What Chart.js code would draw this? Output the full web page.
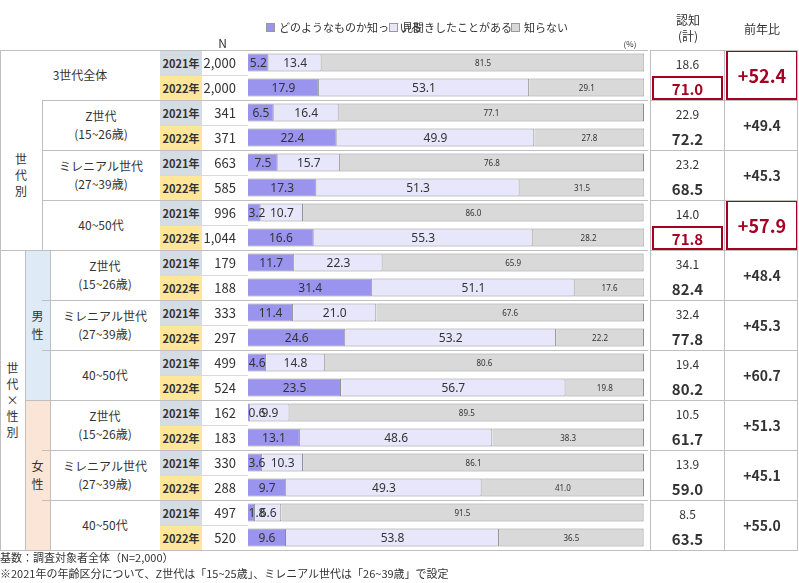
<!DOCTYPE html>
<html lang="ja">
<head>
<meta charset="UTF-8">
<title>認知度</title>
<script src="https://cdn.jsdelivr.net/npm/chart.js"></script>
<style>
  body { margin:0; width:799px; height:583px; background:#fff; font-family:"Noto Sans CJK JP","Noto Sans",sans-serif; color:#333; position:relative; overflow:hidden; }
  .a { position:absolute; box-sizing:border-box; display:flex; align-items:center; justify-content:center; text-align:center; }
  #wrap { position:absolute; left:248px; top:50px; width:396px; height:500px; }
</style>
</head>
<body>
<div id="wrap"><canvas id="c"></canvas></div>
<script>
// data
const groups = ['3世代全体', 'Z世代\n(15~26歳)', 'ミレニアル世代\n(27~39歳)', '40~50代', 'Z世代\n(15~26歳)', 'ミレニアル世代\n(27~39歳)', '40~50代', 'Z世代\n(15~26歳)', 'ミレニアル世代\n(27~39歳)', '40~50代'];
const years = ['2021年', '2022年'];
const know = [5.2, 17.9, 6.5, 22.4, 7.5, 17.3, 3.2, 16.6, 11.7, 31.4, 11.4, 24.6, 4.6, 23.5, 0.6, 13.1, 3.6, 9.7, 1.8, 9.6];
const heard = [13.4, 53.1, 16.4, 49.9, 15.7, 51.3, 10.7, 55.3, 22.3, 51.1, 21.0, 53.2, 14.8, 56.7, 9.9, 48.6, 10.3, 49.3, 6.6, 53.8];
const unknown = [81.5, 29.1, 77.1, 27.8, 76.8, 31.5, 86.0, 28.2, 65.9, 17.6, 67.6, 22.2, 80.6, 19.8, 89.5, 38.3, 86.1, 41.0, 91.5, 36.5];
const nCounts = ['2,000', '2,000', '341', '371', '663', '585', '996', '1,044', '179', '188', '333', '297', '499', '524', '162', '183', '330', '288', '497', '520'];
const aware = ['18.6', '71.0', '22.9', '72.2', '23.2', '68.5', '14.0', '71.8', '34.1', '82.4', '32.4', '77.8', '19.4', '80.2', '10.5', '61.7', '13.9', '59.0', '8.5', '63.5'];
const yoy = ['+52.4', '+49.4', '+45.3', '+57.9', '+48.4', '+45.3', '+60.7', '+51.3', '+45.1', '+55.0'];
const highlight = [0, 3];

const TOP = 50, RH = 25;
function box(x, y, w, h, html, css) {
  const d = document.createElement('div');
  d.className = 'a';
  d.style.cssText += `left:${x}px;top:${y}px;width:${w}px;height:${h}px;` + (css || '');
  d.innerHTML = html;
  document.body.appendChild(d);
}
// headers / legend
const leg = [['#9a94ee', 'どのようなものか知っている', 266], ['#e8e6fb', '見聞きしたことがある', 389], ['#d9d9d9', '知らない', 511]];
leg.forEach(l => {
  box(l[2], 23, 9, 9, '', `background:${l[0]};border:1px solid #999;`);
  box(l[2] + 13, 19, 150, 16, l[1], 'justify-content:flex-start;font-size:11px;');
});
box(610, 36, 40, 14, '(%)', 'font-size:8px;');
box(205, 34, 35, 16, 'N', 'font-size:12px;');
box(652, 8, 72, 40, '認知<br>(計)', 'font-size:12px;line-height:16px;');
box(726, 16, 72, 24, '前年比', 'font-size:12px;');
// side bands
box(0, TOP + 2 * RH, 42, 6 * RH, '世<br>代<br>別', 'font-size:12px;line-height:16px;');
box(0, TOP + 8 * RH, 25, 12 * RH, '世<br>代<br>×<br>性<br>別', 'font-size:12px;line-height:16px;');
box(25, TOP + 8 * RH, 25, 6 * RH, '男<br>性', 'background:#deebf7;font-size:12px;line-height:18px;');
box(25, TOP + 14 * RH, 25, 6 * RH, '女<br>性', 'background:#fbe5d6;font-size:12px;line-height:18px;');
groups.forEach((g, i) => {
  const y = TOP + i * 2 * RH;
  const x0 = i === 0 ? 0 : (i < 4 ? 42 : 50);
  box(x0, y, 160 - x0, 2 * RH, g.replace('\n', '<br>'), 'font-size:12px;line-height:18px;');
  const big = highlight.includes(i);
  box(726, y, 72, 2 * RH, yoy[i], big ? 'font-size:18px;font-weight:bold;color:#a50021;border:2px solid #a50021;' : 'font-size:14px;font-weight:bold;');
  // separators
  const lineStart = i === 0 ? 0 : (i === 4 || i === 7 ? (i === 4 ? 0 : 25) : 42);
  box(lineStart, y, 648 - lineStart, 1, '', 'background:#bfbfbf;');
  box(650, y, 148, 1, '', 'background:#bfbfbf;');
});
box(0, TOP + 20 * RH, 798, 1, '', 'background:#bfbfbf;');
box(0, TOP, 1, 500, '', 'background:#bfbfbf;');
box(650, TOP, 1, 500, '', 'background:#bfbfbf;');
box(724, TOP, 1, 500, '', 'background:#bfbfbf;');
box(797, TOP, 1, 500, '', 'background:#bfbfbf;');
box(42, TOP + 2 * RH, 1, 6 * RH, '', 'background:#bfbfbf;');
box(25, TOP + 8 * RH, 1, 12 * RH, '', 'background:#bfbfbf;');
box(50, TOP + 8 * RH, 1, 12 * RH, '', 'background:#bfbfbf;');
for (let r = 0; r < 20; r++) {
  const y = TOP + r * RH;
  const isNew = r % 2 === 1;
  box(160, y + 1, 42, RH - 1, years[r % 2], `font-size:11px;font-weight:bold;background:${isNew ? '#ffe699' : '#d6dce4'};`);
  box(202, y, 38, RH, nCounts[r], 'font-size:13px;justify-content:flex-end;padding-right:4px;');
  if (isNew) box(160, y, 88, 1, '', 'background:#d9d9d9;');
  const hl = isNew && highlight.includes((r - 1) / 2);
  box(652, y + 1, 71, RH - 1, aware[r], hl ? 'font-size:15px;font-weight:bold;color:#a50021;border:2px solid #a50021;' : (isNew ? 'font-size:15px;font-weight:bold;' : 'font-size:12px;'));
}
box(0, 549, 500, 16, '基数：調査対象者全体（N=2,000）', 'justify-content:flex-start;font-size:11px;');
box(0, 565, 600, 16, '※2021年の年齢区分について、Z世代は「15~25歳」、ミレニアル世代は「26~39歳」で設定', 'justify-content:flex-start;font-size:11px;');

const labelPlugin = {
  id: 'segLabels',
  afterDatasetsDraw(chart) {
    const ctx = chart.ctx;
    ctx.save();
    ctx.textAlign = 'center';
    ctx.textBaseline = 'middle';
    chart.data.datasets.forEach((ds, di) => {
      chart.getDatasetMeta(di).data.forEach((bar, i) => {
        const v = ds.data[i];
        const cx = (bar.base + bar.x) / 2;
        ctx.font = di === 2 ? '8px "Noto Sans"' : '12px "Noto Sans"';
        ctx.fillStyle = '#333';
        ctx.fillText(v.toFixed(1), Math.max(cx, di === 0 ? bar.base + 9 : cx), bar.y + 1);
      });
    });
    ctx.restore();
  }
};
new Chart(document.getElementById('c'), {
  type: 'bar',
  data: {
    labels: nCounts.map((_, i) => i),
    datasets: [
      { data: know, backgroundColor: '#9a94ee' },
      { data: heard, backgroundColor: '#e8e6fb' },
      { data: unknown, backgroundColor: '#d9d9d9' }
    ].map(d => Object.assign(d, { borderColor: '#8c8c8c', borderWidth: 1, categoryPercentage: 1, barPercentage: 0.72 }))
  },
  options: {
    indexAxis: 'y',
    responsive: true,
    maintainAspectRatio: false,
    animation: false,
    layout: { padding: 0 },
    plugins: { legend: { display: false }, tooltip: { enabled: false } },
    scales: {
      x: { stacked: true, min: 0, max: 100, display: false },
      y: { stacked: true, display: false }
    }
  },
  plugins: [labelPlugin]
});
</script>
</body>
</html>
